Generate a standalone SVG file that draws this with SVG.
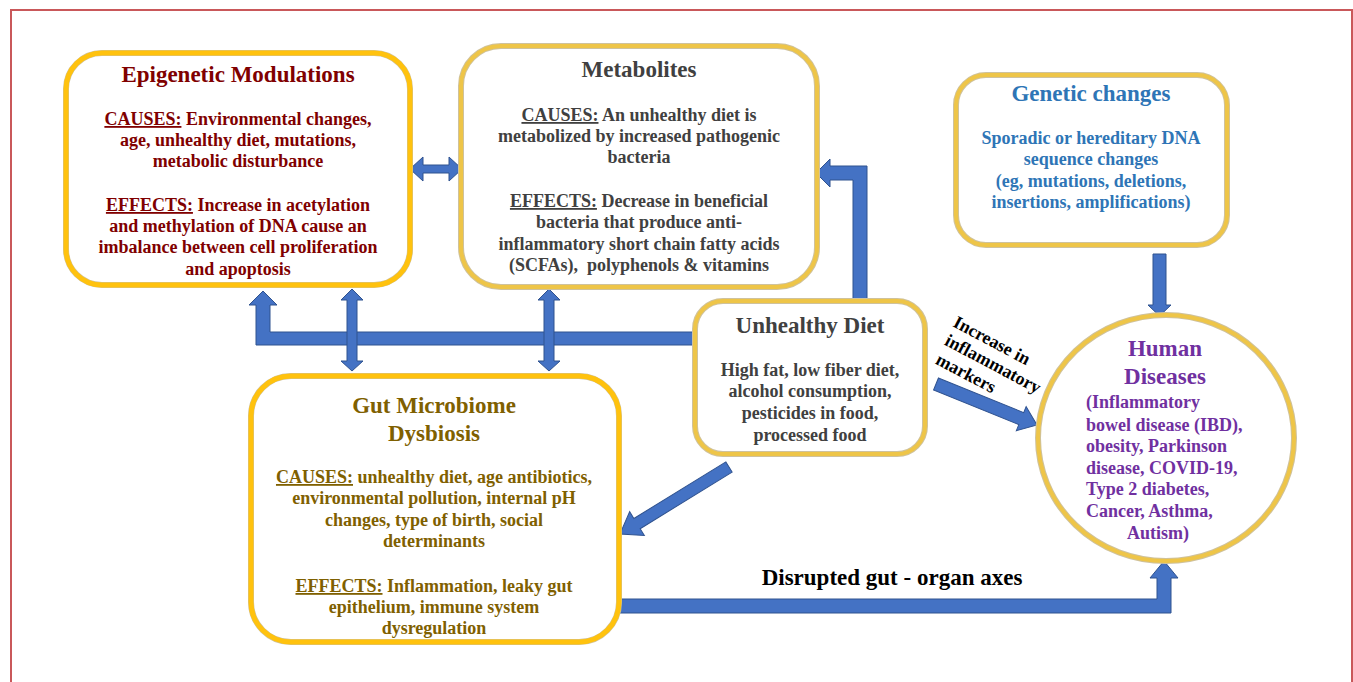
<svg xmlns="http://www.w3.org/2000/svg" width="1353" height="682" viewBox="0 0 1353 682">
<defs>
<style>
.frame{fill:none;stroke:#C9585A;stroke-width:2}
.boxo{fill:#fff;stroke:#CFC29C;stroke-width:6}
.boxi{fill:none;stroke:#EEC548;stroke-width:4}
.boxib{fill:none;stroke:#FFC20E;stroke-width:5}
.arr{fill:#4472C4;stroke:#2F528F;stroke-width:1;stroke-linejoin:miter}
text{font-family:"Liberation Serif","Times New Roman",serif;font-weight:bold;text-anchor:middle}
.t{font-size:23px}
.b{font-size:18px}
.u{text-decoration:underline}
.red{fill:#800000}
.gray{fill:#404040}
.blue{fill:#2E75B6}
.olive{fill:#7F6000}
.purple{fill:#7030A0}
.blk{fill:#000}
</style>
</defs>
<rect x="0" y="0" width="1353" height="682" fill="#fff"/>
<rect class="frame" x="11" y="10" width="1341" height="700"/>

<g id="connectors">
<path class="arr" d="M410,169 L423,157 L423,165 L449,165 L449,157 L462,169 L449,181 L449,173 L423,173 L423,181 Z"/>
<path class="arr" d="M696,332 L270,332 L270,305 L277,305 L263,291 L249,305 L256,305 L256,345 L696,345 Z"/>
<path class="arr" d="M352,289 L363,300 L357,300 L357,361 L363,361 L352,371 L341,361 L347,361 L347,300 L341,300 Z"/>
<path class="arr" d="M549,289 L560,300 L554,300 L554,361 L560,361 L549,371 L538,361 L544,361 L544,300 L538,300 Z"/>
<path class="arr" d="M853,302 L853,180 L830,180 L830,187 L816,173 L830,159 L830,166 L867,166 L867,302 Z"/>
<path class="arr" d="M1153,254 L1166,254 L1166,305 L1171,305 L1159.5,316 L1148,305 L1153,305 Z"/>
<path class="arr" transform="translate(936,384) rotate(22.1)" d="M0,-6.5 L92,-6.5 L92,-13 L109,0 L92,13 L92,6.5 L0,6.5 Z"/>
<path class="arr" transform="translate(729,467) rotate(148.4)" d="M0,-6 L108,-6 L108,-14 L128,0 L108,14 L108,6 L0,6 Z"/>
<path class="arr" d="M618,599 L1157,599 L1157,578 L1150,578 L1164,561 L1178,578 L1171,578 L1171,613 L618,613 Z"/>
<g transform="translate(952,326) rotate(28)">
<text class="b blk" x="0" y="0" style="text-anchor:start">Increase in</text>
<text class="b blk" x="1" y="20" style="text-anchor:start">inflammatory</text>
<text class="b blk" x="2" y="41" style="text-anchor:start">markers</text>
</g>
<text class="t blk" x="892" y="585">Disrupted gut - organ axes</text>
</g>

<g id="epigenetic">
<rect class="boxo" x="66" y="53" width="344" height="232" rx="36"/>
<rect class="boxib" x="66" y="53" width="344" height="232" rx="36"/>
<text class="t red" x="238" y="82">Epigenetic Modulations</text>
<text class="b red" x="238" y="125"><tspan class="u">CAUSES:</tspan> Environmental changes,</text>
<text class="b red" x="238" y="146">age, unhealthy diet, mutations,</text>
<text class="b red" x="238" y="167">metabolic disturbance</text>
<text class="b red" x="238" y="211"><tspan class="u">EFFECTS:</tspan> Increase in acetylation</text>
<text class="b red" x="238" y="232">and methylation of DNA cause an</text>
<text class="b red" x="238" y="253">imbalance between cell proliferation</text>
<text class="b red" x="238" y="275">and apoptosis</text>
</g>

<g id="metabolites">
<rect class="boxo" x="461" y="46" width="356" height="241" rx="40"/>
<rect class="boxi" x="461" y="46" width="356" height="241" rx="40"/>
<text class="t gray" x="639" y="77">Metabolites</text>
<text class="b gray" x="639" y="121"><tspan class="u">CAUSES:</tspan> An unhealthy diet is</text>
<text class="b gray" x="639" y="142">metabolized by increased pathogenic</text>
<text class="b gray" x="639" y="163">bacteria</text>
<text class="b gray" x="639" y="207"><tspan class="u">EFFECTS:</tspan> Decrease in beneficial</text>
<text class="b gray" x="639" y="228">bacteria that produce anti-</text>
<text class="b gray" x="639" y="250">inflammatory short chain fatty acids</text>
<text class="b gray" x="639" y="271" xml:space="preserve">(SCFAs),  polyphenols &amp; vitamins</text>
</g>

<g id="genetic">
<rect class="boxo" x="956" y="75" width="271" height="170" rx="30"/>
<rect class="boxi" x="956" y="75" width="271" height="170" rx="30"/>
<text class="t blue" x="1091" y="101">Genetic changes</text>
<text class="b blue" x="1091" y="144">Sporadic or hereditary DNA</text>
<text class="b blue" x="1091" y="165">sequence changes</text>
<text class="b blue" x="1091" y="187">(eg, mutations, deletions,</text>
<text class="b blue" x="1091" y="208">insertions, amplifications)</text>
</g>

<g id="gut">
<rect class="boxo" x="251" y="376" width="368" height="266" rx="40"/>
<rect class="boxib" x="251" y="376" width="368" height="266" rx="40"/>
<text class="t olive" x="434" y="413">Gut Microbiome</text>
<text class="t olive" x="434" y="441">Dysbiosis</text>
<text class="b olive" x="434" y="483"><tspan class="u">CAUSES:</tspan> unhealthy diet, age antibiotics,</text>
<text class="b olive" x="434" y="504">environmental pollution, internal pH</text>
<text class="b olive" x="434" y="526">changes, type of birth, social</text>
<text class="b olive" x="434" y="547">determinants</text>
<text class="b olive" x="434" y="592"><tspan class="u">EFFECTS:</tspan> Inflammation, leaky gut</text>
<text class="b olive" x="434" y="613">epithelium, immune system</text>
<text class="b olive" x="434" y="634">dysregulation</text>
</g>

<g id="diet">
<rect class="boxo" x="695" y="301" width="230" height="153" rx="28"/>
<rect class="boxi" x="695" y="301" width="230" height="153" rx="28"/>
<text class="t gray" x="810" y="333">Unhealthy Diet</text>
<text class="b gray" x="810" y="376">High fat, low fiber diet,</text>
<text class="b gray" x="810" y="397">alcohol consumption,</text>
<text class="b gray" x="810" y="419">pesticides in food,</text>
<text class="b gray" x="810" y="441">processed food</text>
</g>

<g id="human">
<ellipse class="boxo" cx="1166" cy="438" rx="128" ry="123"/>
<ellipse class="boxi" cx="1166" cy="438" rx="128" ry="123"/>
<text class="t purple" x="1165" y="356">Human</text>
<text class="t purple" x="1165" y="384">Diseases</text>
<text class="b purple" x="1086" y="408" style="text-anchor:start">(Inflammatory</text>
<text class="b purple" x="1086" y="431" style="text-anchor:start">bowel disease (IBD),</text>
<text class="b purple" x="1086" y="452" style="text-anchor:start">obesity, Parkinson</text>
<text class="b purple" x="1086" y="474" style="text-anchor:start">disease, COVID-19,</text>
<text class="b purple" x="1086" y="495" style="text-anchor:start">Type 2 diabetes,</text>
<text class="b purple" x="1086" y="517" style="text-anchor:start">Cancer, Asthma,</text>
<text class="b purple" x="1127" y="539" style="text-anchor:start">Autism)</text>
</g>
</svg>
